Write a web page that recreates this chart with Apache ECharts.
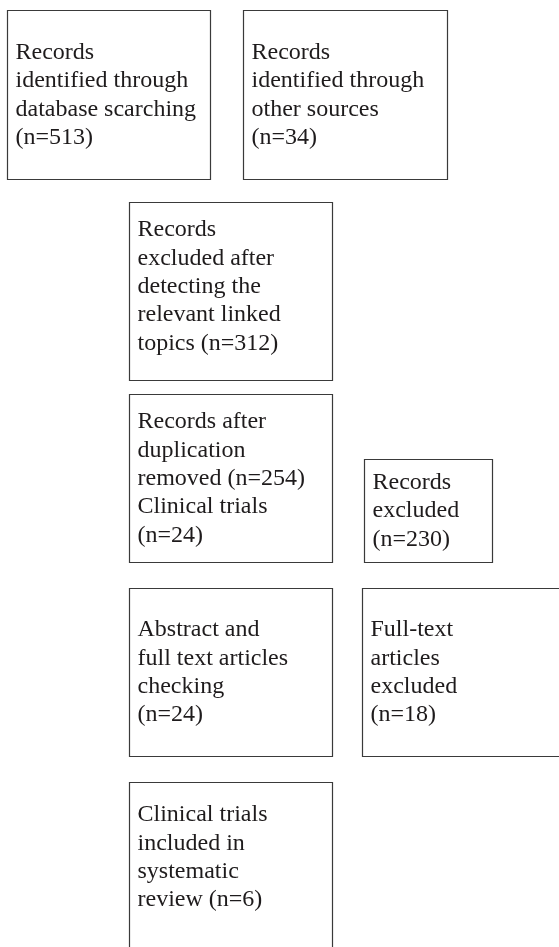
<!DOCTYPE html>
<html>
<head>
<meta charset="utf-8">
<script src="https://cdn.jsdelivr.net/npm/echarts@6/dist/echarts.min.js"></script>
<style>
html,body{margin:0;padding:0;background:#fff;}
#chart{width:559px;height:947px;}
</style>
</head>
<body>
<div id="chart"></div>
<script>
// Box texts (content)
const boxTexts = [
  'Records\nidentified through\ndatabase scarching\n(n=513)',
  'Records\nidentified through\nother sources\n(n=34)',
  'Records\nexcluded after\ndetecting the\nrelevant linked\ntopics (n=312)',
  'Records after\nduplication\nremoved (n=254)\nClinical trials\n(n=24)',
  'Records\nexcluded\n(n=230)',
  'Abstract and\nfull text articles\nchecking\n(n=24)',
  'Full-text\narticles\nexcluded\n(n=18)',
  'Clinical trials\nincluded in\nsystematic\nreview (n=6)'
];
// Layout: box left, top, right, bottom, text top (page units)
const boxLeft   = [7,   243, 129, 129, 364, 129, 362, 129];
const boxTop    = [10,  10,  202, 394, 459, 588, 588, 782];
const boxRight  = [210, 447, 332, 332, 492, 332, 575, 332];
const boxBottom = [179, 179, 380, 562, 562, 756, 756, 965];
const textTop   = [38.6, 38.6, 216, 408, 468.6, 616, 616, 801];

const data = boxTexts.map((t, i) => [boxLeft[i], boxTop[i], boxRight[i], boxBottom[i], textTop[i], i]);

const chart = echarts.init(document.getElementById('chart'), null, {renderer: 'canvas'});
chart.setOption({
  animation: false,
  backgroundColor: '#fff',
  grid: {left: 0, right: 0, top: 0, bottom: 0},
  xAxis: {type: 'value', min: 0, max: 559, show: false},
  yAxis: {type: 'value', min: 0, max: 947, inverse: true, show: false},
  series: [{
    type: 'custom',
    coordinateSystem: 'cartesian2d',
    clip: false,
    data: data,
    renderItem: function (params, api) {
      const p1 = api.coord([api.value(0), api.value(1)]);
      const p2 = api.coord([api.value(2), api.value(3)]);
      const tt = api.coord([api.value(0), api.value(4)]);
      const idx = api.value(5);
      return {
        type: 'group',
        children: [
          {
            type: 'rect',
            shape: {x: Math.round(p1[0]) + 0.5, y: Math.round(p1[1]) + 0.5,
                    width: Math.round(p2[0] - p1[0]), height: Math.round(p2[1] - p1[1])},
            style: {fill: '#fff', stroke: '#3a3a3a', lineWidth: 1.2}
          },
          {
            type: 'text',
            x: p1[0] + 8.5,
            y: tt[1],
            style: {
              text: boxTexts[idx],
              font: '24px "Liberation Serif", "Times New Roman", serif',
              fill: '#1e1b1c',
              lineHeight: 28.3,
              align: 'left',
              verticalAlign: 'top'
            }
          }
        ]
      };
    }
  }]
});
</script>
</body>
</html>
